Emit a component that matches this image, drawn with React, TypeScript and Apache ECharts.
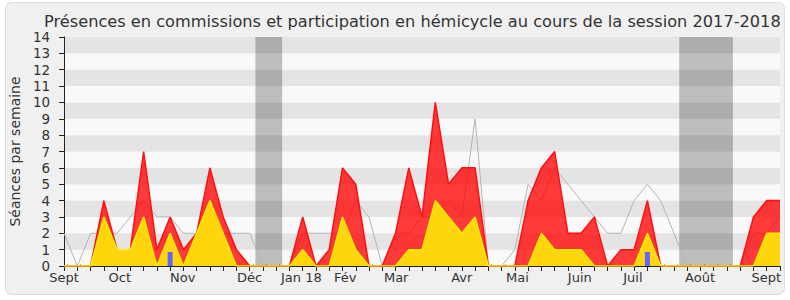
import React, { useEffect, useRef } from "react";
import * as echarts from "echarts";

// weekly values, week 0 = first week of Sept 2017 ... week 54 = Sept 2018
const weeks = Array.from({ length: 55 }, (_, i) => i);
const totalSeances = [
  0, 0, 0, 4, 1, 1, 7, 1, 3, 1, 2, 6, 3, 1, 0, 0, 0, 0, 3, 0, 1, 6, 5, 0, 0, 2, 6, 3,
  10, 5, 6, 6, 0, 0, 0, 4, 6, 7, 2, 2, 3, 0, 1, 1, 4, 0, 0, 0, 0, 0, 0, 0, 3, 4, 4,
];
const hemicycle = [
  0, 0, 0, 3, 1, 1, 3, 0, 2, 0, 2, 4, 2, 0, 0, 0, 0, 0, 1, 0, 0, 3, 1, 0, 0, 0, 1, 1,
  4, 3, 2, 3, 0, 0, 0, 0, 2, 1, 1, 1, 0, 0, 0, 0, 2, 0, 0, 0, 0, 0, 0, 0, 0, 2, 2,
];
const mediane = [
  2, 0, 2, 2, 2, 3, 4, 3, 3, 2, 2, 2, 2, 2, 2, 0, 0, 0, 2, 2, 2, 2, 4, 3, 0, 2, 2, 3,
  3, 4, 3, 9, 0, 0, 1, 5, 4, 6, 5, 4, 3, 2, 2, 4, 5, 4, 2, 0, 0, 0, 0, 0, 2, 2, 3,
];
const questionWeeks = [8, 44];
const questionValues = [0.86, 0.86];
const monthLabelPos = [0, 4.2, 8.95, 14.0, 17.9, 21.2, 25.05, 30.0, 34.2, 38.9, 42.9, 47.97, 52.97];
const monthLabels = ["Sept", "Oct", "Nov", "Déc", "Jan 18", "Fév", "Mar", "Avr", "Mai", "Juin", "Juil", "Août", "Sept"];
const vacations = [
  [14.43, 16.45],
  [46.4, 50.45],
];
const yTicks = [0, 14];

const FONT = "DejaVu Sans";

export default function App() {
  const ref = useRef<HTMLDivElement>(null);
  useEffect(() => {
    document.body.style.margin = "0";
    const chart = echarts.init(ref.current!, null, { renderer: "svg" });
    const pair = (arr: number[]) => weeks.map((w, i) => [w, arr[i]]);
    chart.setOption({
      animation: false,
      backgroundColor: "#ffffff",
      textStyle: { fontFamily: FONT },
      title: {
        text: "Présences en commissions et participation en hémicycle au cours de la session 2017-2018",
        left: 39,
        top: 8,
        textStyle: { fontFamily: FONT, fontSize: 16.2, fontWeight: "normal", color: "#333" },
      },
      graphic: [
        {
          type: "rect",
          z: -10,
          shape: { x: 5.5, y: 2.5, width: 779, height: 292, r: 6 },
          style: { fill: "#f0f0f0", stroke: "#dcdcdc", lineWidth: 1 },
        },
      ],
      grid: { left: 62, right: 10, top: 37, bottom: 34 },
      xAxis: [
        {
          type: "value",
          min: 0,
          max: 54,
          interval: 1,
          splitLine: { show: false },
          axisLine: { show: true, onZero: false, lineStyle: { color: "#222", width: 1 } },
          axisTick: { show: true, length: 5, lineStyle: { color: "#222" }, customValues: weeks },
          axisLabel: {
            customValues: monthLabelPos,
            margin: 5,
            fontFamily: FONT,
            fontSize: 13,
            color: "#333",
            formatter: (v: number) => {
              let best = 0;
              monthLabelPos.forEach((p, i) => {
                if (Math.abs(p - v) < Math.abs(monthLabelPos[best] - v)) best = i;
              });
              return monthLabels[best];
            },
          },
        },
        {
          type: "value",
          position: "top",
          min: 0,
          max: 54,
          interval: 1,
          splitLine: { show: false },
          axisLine: { show: false },
          axisLabel: { show: false },
          axisTick: {
            show: true,
            length: 1.5,
            lineStyle: { color: "#555", width: 1 },
            customValues: weeks.slice(0, 54).map((w) => w + 0.25),
          },
        },
      ],
      yAxis: {
        type: "value",
        min: yTicks[0],
        max: yTicks[1],
        interval: 1,
        name: "Séances par semaine",
        nameLocation: "middle",
        nameGap: 40,
        nameTextStyle: { fontFamily: FONT, fontSize: 14, color: "#333" },
        axisLine: { show: true, lineStyle: { color: "#222" } },
        axisTick: { show: true, length: 5, lineStyle: { color: "#222" } },
        axisLabel: { margin: 14, fontFamily: FONT, fontSize: 13.5, color: "#333" },
        splitLine: { show: false },
        splitArea: { show: true, areaStyle: { color: ["#f9f9f9", "#e4e4e4"] } },
      },
      series: [
        {
          type: "line",
          name: "médiane",
          data: pair(mediane),
          symbol: "none",
          z: 1,
          lineStyle: { color: "#b4b4b4", width: 1 },
          markArea: {
            silent: true,
            itemStyle: { color: "rgba(0,0,0,0.24)" },
            data: vacations.map(([a, b]) => [{ xAxis: a }, { xAxis: b }]),
          },
        },
        {
          type: "line",
          name: "commissions",
          data: pair(totalSeances),
          symbol: "none",
          z: 2,
          lineStyle: { color: "#ff1010", width: 1.5 },
          areaStyle: { color: "rgba(255,0,0,0.77)", opacity: 1 },
        },
        {
          type: "line",
          name: "hémicycle",
          data: pair(hemicycle),
          symbol: "none",
          z: 3,
          lineStyle: { color: "#ffee00", width: 1.5 },
          areaStyle: { color: "#ffd50c", opacity: 1 },
        },
        {
          type: "bar",
          name: "questions",
          data: questionWeeks.map((w, i) => [w, questionValues[i]]),
          barWidth: 5,
          z: 4,
          itemStyle: { color: "#6464ff" },
        },
      ],
    });
    return () => chart.dispose();
  }, []);
  return <div ref={ref} style={{ width: 790, height: 300 }} />;
}
